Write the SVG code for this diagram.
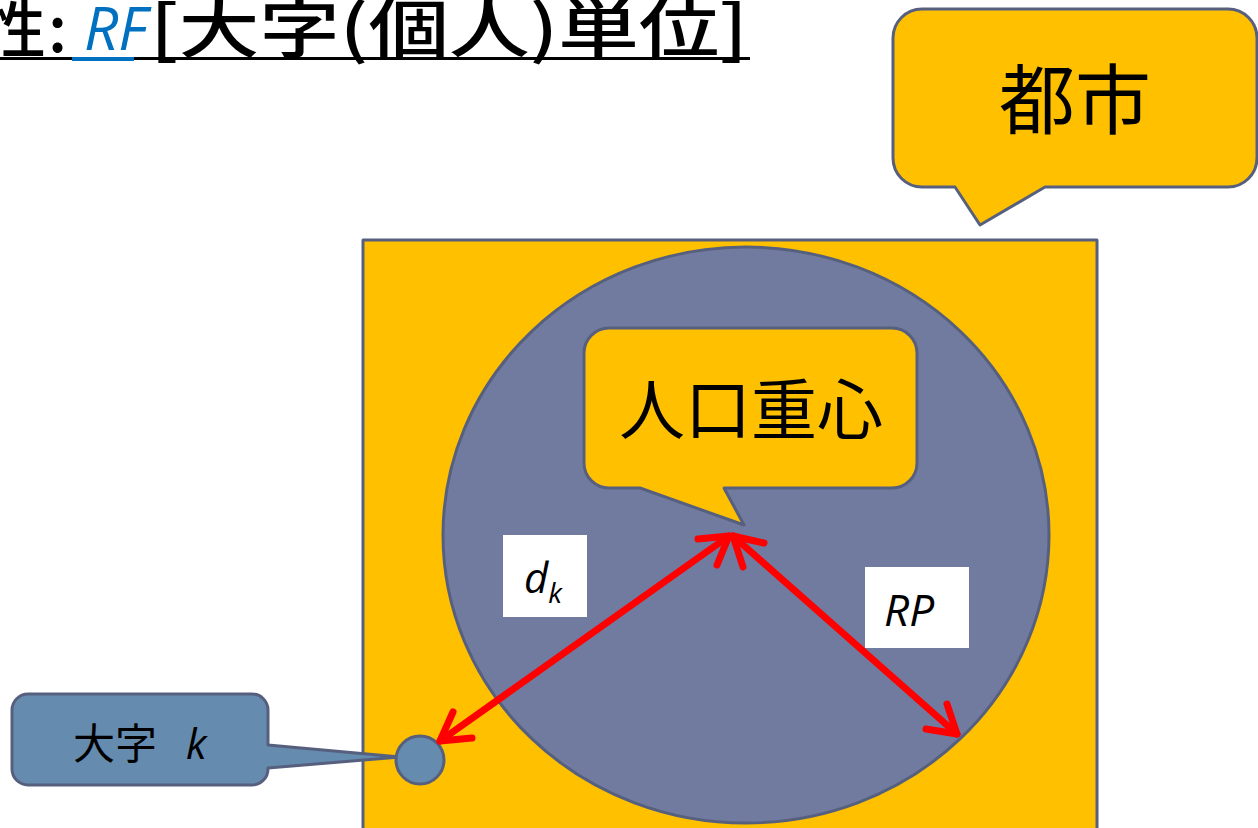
<svg xmlns="http://www.w3.org/2000/svg" width="1258" height="828" viewBox="0 0 1258 828">
<style>
.ol{stroke:#56607E;stroke-width:3;stroke-linejoin:round}
.y{fill:#FFC000}
.jp{font-family:"Noto Sans CJK JP","Noto Sans",sans-serif;fill:#000}
.ar{fill:none;stroke:#FF0000;stroke-width:7;stroke-linecap:round;stroke-linejoin:round}
.lbl{fill:#fff}
.it{font-family:"Open Sans","Noto Sans",sans-serif;font-style:italic;fill:#000}
</style>
<rect width="1258" height="828" fill="#fff"/>
<g id="title">
<text class="jp" x="-18" y="52" font-size="64" font-weight="500">性</text>
<text class="jp" x="48" y="52" font-size="64" font-weight="500">:</text>
<text x="84" y="50" font-size="60" font-family="Open Sans,Noto Sans,sans-serif" font-style="italic" fill="#0070C0">RF</text>
<text class="jp" x="150" y="52" font-size="64" font-weight="500" textLength="598" lengthAdjust="spacingAndGlyphs">[大字(個人)単位]</text>
<rect x="0" y="57" width="750" height="3" fill="#000"/>
<rect x="72" y="57" width="62" height="4" fill="#0070C0"/>
</g>
<g id="city">
<path class="y ol" d="M922,9 H1228 A29,29 0 0 1 1257,38 V158 A29,29 0 0 1 1228,187 H1045 L980,225 L955,187 H922 A29,29 0 0 1 893,158 V38 A29,29 0 0 1 922,9 Z"/>
<text class="jp" x="1075" y="128" font-size="76" text-anchor="middle">都市</text>
</g>
<g id="area">
<rect class="y ol" x="363" y="240" width="734" height="600"/>
<ellipse class="ol" cx="746" cy="535" rx="303" ry="288" fill="#717BA0"/>
</g>
<g id="centroid">
<path class="y ol" d="M609,328 H892 A25,25 0 0 1 917,353 V463 A25,25 0 0 1 892,488 H724 L744,525 L640,488 H609 A25,25 0 0 1 584,463 V353 A25,25 0 0 1 609,328 Z"/>
<text class="jp" x="751" y="434" font-size="66" text-anchor="middle">人口重心</text>
</g>
<g id="village">
<path class="ol" fill="#658BAF" d="M28,694 H252 A16,16 0 0 1 268,710 V745 L400,757 L268,768 V769 A16,16 0 0 1 252,785 H28 A16,16 0 0 1 12,769 V710 A16,16 0 0 1 28,694 Z"/>
<text class="jp" x="73" y="759" font-size="42">大字</text>
<text class="it" x="186" y="759" font-size="42">k</text>
<circle class="ol" cx="420" cy="760" r="24" fill="#658BAF"/>
</g>
<g id="connectors">
<path class="ar" d="M440,741 L729,536"/>
<path class="ar" d="M698,539 L729,536 L717,565"/>
<path class="ar" d="M472,738 L440,741 L453,712"/>
<path class="ar" d="M733,536 L957,734"/>
<path class="ar" d="M764,543 L733,536 L743,567"/>
<path class="ar" d="M926,729 L957,734 L947,704"/>
</g>
<g id="label-dk">
<rect class="lbl" x="503" y="535" width="84" height="82"/>
<text class="it" x="524" y="593" font-size="42">d<tspan font-size="28" dy="10">k</tspan></text>
</g>
<g id="label-rp">
<rect class="lbl" x="865" y="567" width="104" height="81"/>
<text class="it" x="884" y="626" font-size="44">RP</text>
</g>
</svg>
